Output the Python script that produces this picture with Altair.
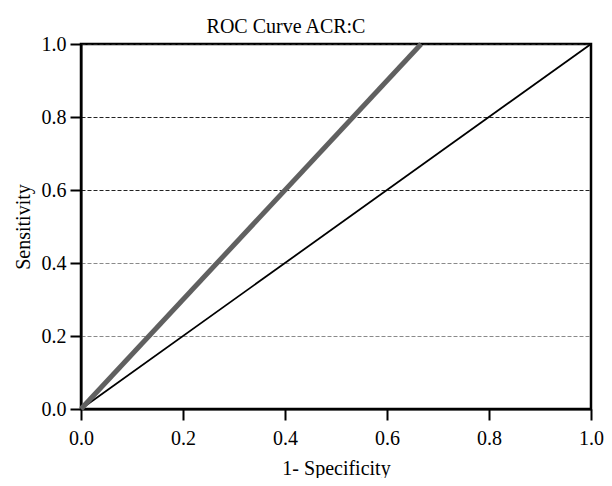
import altair as alt
import pandas as pd

# ROC curve points (1 - specificity, sensitivity)
roc_fpr = [0.0, 0.667]
roc_tpr = [0.0, 1.0]
# Reference (chance) diagonal
ref_fpr = [0.0, 1.0]
ref_tpr = [0.0, 1.0]
tick_values = [0.0, 0.2, 0.4, 0.6, 0.8, 1.0]

roc = pd.DataFrame({"x": roc_fpr, "y": roc_tpr})
ref = pd.DataFrame({"x": ref_fpr, "y": ref_tpr})

FONT = "Liberation Serif"

x_enc = alt.X(
    "x:Q",
    scale=alt.Scale(domain=[0, 1], nice=False, zero=False),
    axis=alt.Axis(
        title="1- Specificity",
        values=tick_values,
        format=".1f",
        grid=False,
        labelFlush=False,
        tickSize=11,
        tickWidth=2,
        tickColor="black",
        domainColor="black",
        domainWidth=2,
        labelPadding=8,
        titlePadding=10,
    ),
)
y_enc = alt.Y(
    "y:Q",
    scale=alt.Scale(domain=[0, 1], nice=False, zero=False),
    axis=alt.Axis(
        title="Sensitivity",
        values=tick_values,
        format=".1f",
        grid=True,
        gridColor={"condition": {"test": "datum.value <= 0.4", "value": "#8a8a8a"}, "value": "#222222"},
        gridDash=[4, 2],
        gridWidth=1,
        labelFlush=False,
        tickSize=11,
        tickWidth=2,
        tickColor="black",
        domainColor="black",
        domainWidth=2,
        labelPadding=4,
        titlePadding=8,
    ),
)

ref_line = alt.Chart(ref).mark_line(color="black", strokeWidth=1.8).encode(x=x_enc, y=y_enc)
roc_line = alt.Chart(roc).mark_line(color="#606060", strokeWidth=5).encode(x="x:Q", y="y:Q")

chart = (
    alt.layer(ref_line, roc_line)
    .properties(
        width=510,
        height=365,
        title=alt.TitleParams(
            "ROC Curve ACR:C",
            font=FONT,
            fontSize=20,
            fontWeight="normal",
            color="black",
            anchor="middle",
            dx=-50,
            offset=-3,
        ),
        autosize=alt.AutoSizeParams(type="none"),
        padding={"left": 73, "top": 36, "right": 13, "bottom": 69},
    )
    .configure_view(stroke="black", strokeWidth=2.5)
    .configure_axis(
        labelFont=FONT,
        titleFont=FONT,
        labelFontSize=20,
        titleFontSize=20,
        titleFontWeight="normal",
        labelColor="black",
        titleColor="black",
    )
)

chart.save("out.html", embed_options={"renderer": "svg", "actions": False})
